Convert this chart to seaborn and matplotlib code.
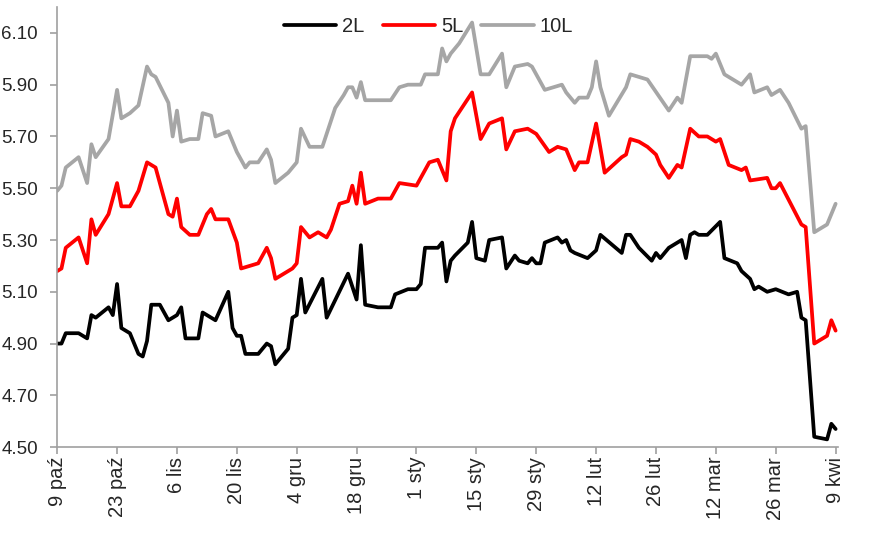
import pandas as pd
import numpy as np
import matplotlib
matplotlib.use("Agg")
import matplotlib.pyplot as plt
import seaborn as sns

# dzien 0 = 9 paz, odczyty z wykresu
start = pd.Timestamp("2018-10-09")

dni_2l = [0, 1, 2, 5, 7, 8, 9, 12, 13, 14, 15, 17, 19, 20, 21, 22, 24, 26, 28, 29,
          30, 33, 34, 37, 40, 41, 42, 43, 44, 47, 49, 50, 51, 54, 55, 56, 57, 58, 62, 63,
          68, 70, 71, 72, 75, 78, 79, 82, 84, 85, 86, 89, 90, 91, 92, 93, 96, 97, 98, 100,
          101, 104, 105, 107, 108, 110, 111, 112, 113, 114, 117, 118, 119, 120, 121, 124, 126, 127, 132, 133,
          134, 136, 139, 140, 141, 143, 146, 147, 148, 149, 150, 152, 155, 156, 159, 160, 162, 163, 164, 166,
          168, 171, 173, 174, 175, 177, 180, 181, 182]
y_2l = [4.90, 4.90, 4.94, 4.94, 4.92, 5.01, 5.00, 5.04, 5.01, 5.13, 4.96, 4.94, 4.86, 4.85, 4.91, 5.05, 5.05, 4.99, 5.01, 5.04,
        4.92, 4.92, 5.02, 4.99, 5.10, 4.96, 4.93, 4.93, 4.86, 4.86, 4.90, 4.89, 4.82, 4.88, 5.00, 5.01, 5.15, 5.02, 5.15, 5.00,
        5.17, 5.07, 5.28, 5.05, 5.04, 5.04, 5.09, 5.11, 5.11, 5.13, 5.27, 5.27, 5.29, 5.14, 5.22, 5.24, 5.29, 5.37, 5.23, 5.22,
        5.30, 5.31, 5.19, 5.24, 5.22, 5.21, 5.23, 5.21, 5.21, 5.29, 5.31, 5.29, 5.30, 5.26, 5.25, 5.23, 5.26, 5.32, 5.25, 5.32,
        5.32, 5.27, 5.22, 5.25, 5.23, 5.27, 5.30, 5.23, 5.32, 5.33, 5.32, 5.32, 5.37, 5.23, 5.21, 5.18, 5.15, 5.11, 5.12, 5.10,
        5.11, 5.09, 5.10, 5.00, 4.99, 4.54, 4.53, 4.59, 4.57]

dni_5l = [0, 1, 2, 5, 7, 8, 9, 12, 14, 15, 17, 19, 21, 23, 26, 27, 28, 29, 31, 33,
          35, 36, 37, 40, 42, 43, 47, 49, 50, 51, 55, 56, 57, 59, 61, 63, 64, 66, 68, 69,
          70, 71, 72, 75, 78, 80, 84, 85, 87, 89, 91, 92, 93, 97, 99, 101, 104, 105, 107, 110,
          112, 115, 117, 119, 120, 121, 122, 124, 126, 128, 132, 133, 134, 136, 138, 140, 141, 143, 145, 146,
          148, 150, 152, 154, 155, 157, 160, 161, 162, 166, 167, 168, 169, 174, 175, 177, 180, 181, 182]
y_5l = [5.18, 5.19, 5.27, 5.31, 5.21, 5.38, 5.32, 5.40, 5.52, 5.43, 5.43, 5.49, 5.60, 5.58, 5.40, 5.39, 5.46, 5.35, 5.32, 5.32,
        5.40, 5.42, 5.38, 5.38, 5.29, 5.19, 5.21, 5.27, 5.23, 5.15, 5.19, 5.21, 5.35, 5.31, 5.33, 5.31, 5.34, 5.44, 5.45, 5.51,
        5.44, 5.56, 5.44, 5.46, 5.46, 5.52, 5.51, 5.54, 5.60, 5.61, 5.53, 5.72, 5.77, 5.87, 5.69, 5.75, 5.77, 5.65, 5.72, 5.73,
        5.71, 5.64, 5.66, 5.65, 5.61, 5.57, 5.60, 5.60, 5.75, 5.56, 5.62, 5.63, 5.69, 5.68, 5.66, 5.63, 5.59, 5.54, 5.59, 5.58,
        5.73, 5.70, 5.70, 5.68, 5.69, 5.59, 5.57, 5.58, 5.53, 5.54, 5.50, 5.50, 5.52, 5.36, 5.35, 4.90, 4.93, 4.99, 4.95]

dni_10l = [0, 1, 2, 5, 7, 8, 9, 12, 14, 15, 17, 19, 21, 22, 23, 26, 27, 28, 29, 31,
           33, 34, 36, 37, 40, 42, 44, 45, 47, 49, 50, 51, 54, 55, 56, 57, 59, 62, 65, 67,
           68, 69, 70, 71, 72, 75, 78, 80, 82, 85, 86, 89, 90, 91, 92, 94, 97, 99, 101, 104,
           105, 107, 110, 111, 114, 116, 118, 119, 120, 121, 122, 124, 125, 126, 127, 129, 133, 134, 136, 138,
           143, 145, 146, 148, 150, 152, 153, 154, 156, 160, 162, 163, 166, 167, 169, 171, 174, 175, 177, 180,
           182]
y_10l = [5.49, 5.51, 5.58, 5.62, 5.52, 5.67, 5.62, 5.69, 5.88, 5.77, 5.79, 5.82, 5.97, 5.94, 5.93, 5.83, 5.70, 5.80, 5.68, 5.69,
         5.69, 5.79, 5.78, 5.70, 5.72, 5.64, 5.58, 5.60, 5.60, 5.65, 5.61, 5.52, 5.56, 5.58, 5.60, 5.73, 5.66, 5.66, 5.81, 5.86,
         5.89, 5.89, 5.85, 5.91, 5.84, 5.84, 5.84, 5.89, 5.90, 5.90, 5.94, 5.94, 6.04, 5.99, 6.02, 6.06, 6.14, 5.94, 5.94, 6.02,
         5.89, 5.97, 5.98, 5.97, 5.88, 5.89, 5.90, 5.87, 5.85, 5.83, 5.85, 5.85, 5.89, 5.99, 5.89, 5.78, 5.89, 5.94, 5.93, 5.92,
         5.80, 5.85, 5.83, 6.01, 6.01, 6.01, 6.00, 6.02, 5.94, 5.90, 5.94, 5.87, 5.89, 5.86, 5.88, 5.83, 5.73, 5.74, 5.33, 5.36,
         5.44]

serie = ["2L", "5L", "10L"]
kolory = ["#000000", "#ff0000", "#a6a6a6"]

etykiety_x = ["9 paź", "23 paź", "6 lis", "20 lis", "4 gru", "18 gru", "1 sty",
              "15 sty", "29 sty", "12 lut", "26 lut", "12 mar", "26 mar", "9 kwi"]
etykiety_y = [4.50, 4.70, 4.90, 5.10, 5.30, 5.50, 5.70, 5.90, 6.10]

frames = []
for nazwa, dni, wart in [("2L", dni_2l, y_2l), ("5L", dni_5l, y_5l), ("10L", dni_10l, y_10l)]:
    frames.append(pd.DataFrame({"data": start + pd.to_timedelta(dni, unit="D"),
                                "seria": nazwa, "rentownosc": wart}))
df = pd.concat(frames, ignore_index=True)

sns.set_style("ticks")
plt.rcParams["font.family"] = ["Liberation Sans", "DejaVu Sans"]

fig = plt.figure(figsize=(8.8, 5.4), dpi=100)
ax = fig.add_axes([0.065, 0.172, 0.887, 0.815])

sns.lineplot(data=df, x="data", y="rentownosc", hue="seria", hue_order=serie,
             palette=kolory, linewidth=2.7, ax=ax)

ax.set_xlim(start, start + pd.Timedelta(days=182.5))
ax.set_ylim(4.50, 6.20)
ax.set_yticks(etykiety_y)
ax.set_yticklabels([f"{v:.2f}" for v in etykiety_y], fontsize=13.5)
ax.set_xticks(pd.date_range(start, periods=len(etykiety_x), freq="14D"))
ax.set_xticklabels(etykiety_x, rotation=90, fontsize=14.5)
ax.set_xlabel("")
ax.set_ylabel("")

for s in ["top", "right"]:
    ax.spines[s].set_visible(False)
for s in ["left", "bottom"]:
    ax.spines[s].set_color("#a0a0a0")
    ax.spines[s].set_linewidth(1.2)
ax.tick_params(axis="both", color="#a0a0a0", length=5, width=1.2)
ax.tick_params(axis="y", pad=9)
ax.tick_params(axis="x", pad=2)

sns.move_legend(ax, "center", bbox_to_anchor=(0.487, 0.95), bbox_transform=fig.transFigure,
                ncol=3, frameon=False, title=None, fontsize=14.5, handlelength=2.6,
                handletextpad=0.3, columnspacing=0.9)

fig.savefig("out.png", dpi=100)
